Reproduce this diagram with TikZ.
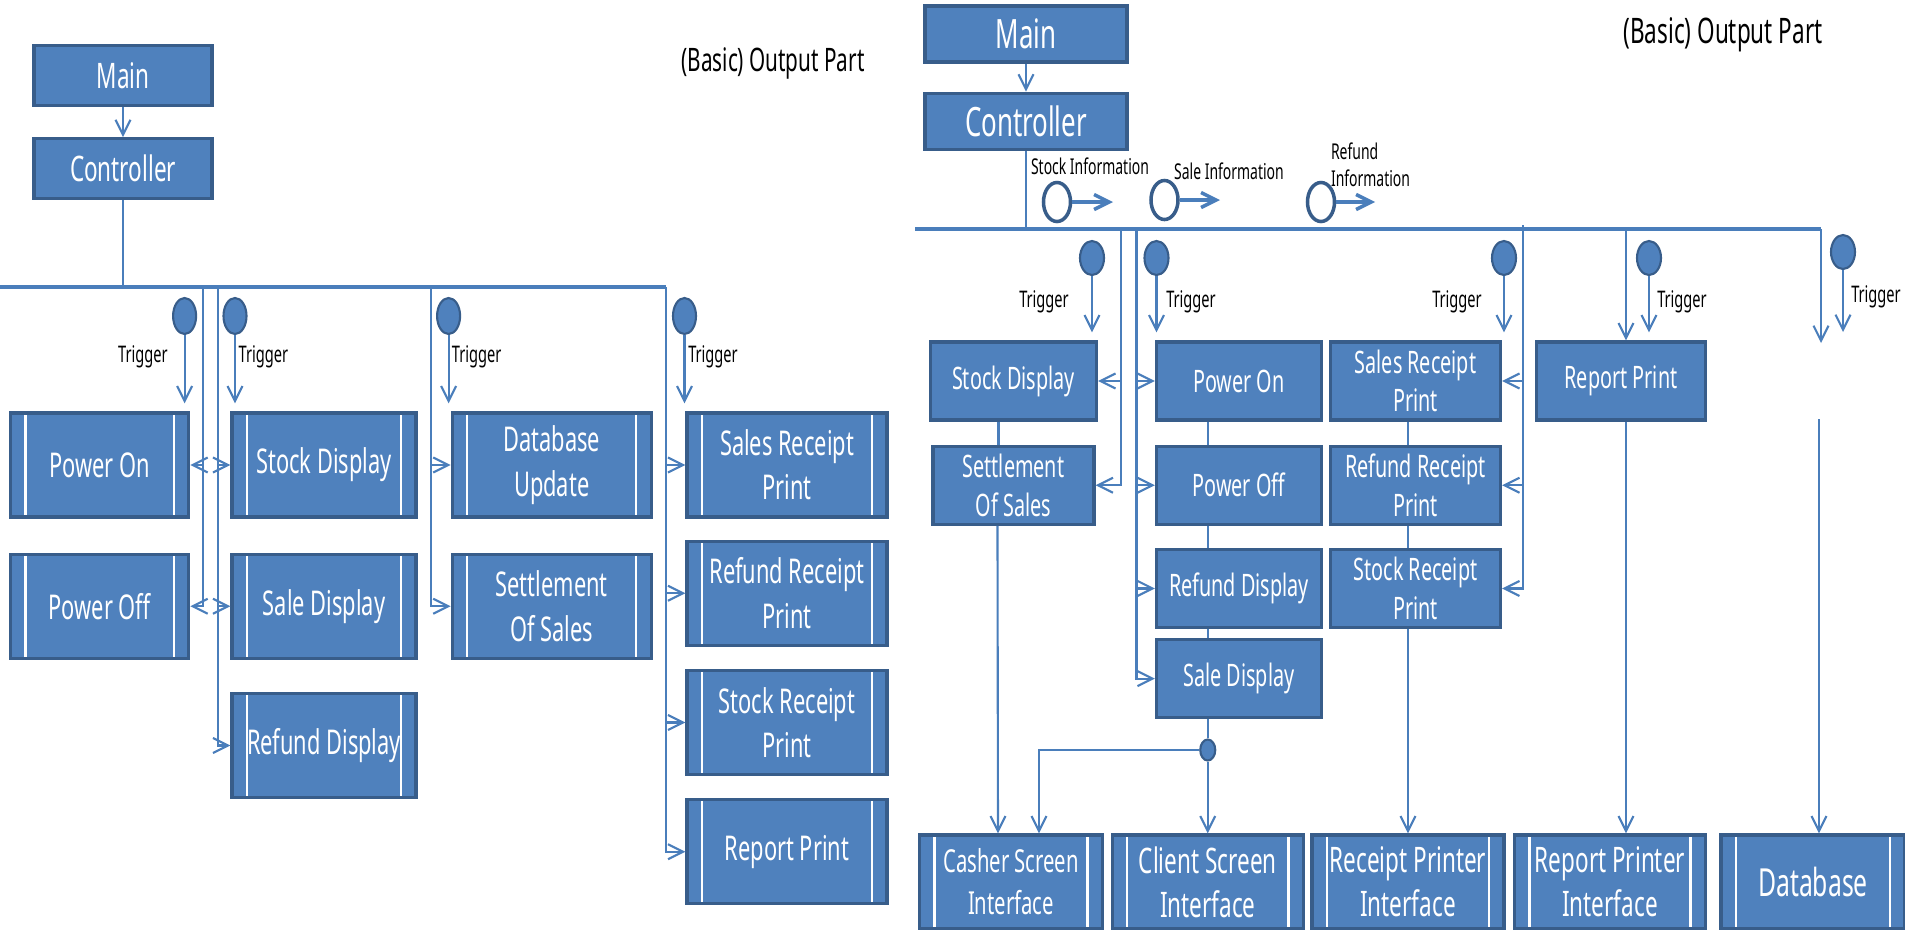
\documentclass[tikz,border=0pt]{standalone}
\usepackage{fontspec}
\setmainfont{Noto Sans}[FakeStretch=0.64]
\usetikzlibrary{positioning,shapes.geometric,arrows.meta}

\definecolor{boxfill}{RGB}{79,129,189}
\definecolor{boxline}{RGB}{56,93,138}
\definecolor{conn}{RGB}{74,126,187}

\tikzset{
  box/.style={rectangle,draw=boxline,fill=boxfill,line width=0.9pt,text=white,align=center,inner sep=1pt},
  proc/.style={box,path picture={
      \draw[white,line width=0.7pt] ([xshift=0.15cm]path picture bounding box.north west) -- ([xshift=0.15cm]path picture bounding box.south west);
      \draw[white,line width=0.7pt] ([xshift=-0.15cm]path picture bounding box.north east) -- ([xshift=-0.15cm]path picture bounding box.south east);}},
  lbox/.style={proc,minimum height=1.04cm,font=\fontsize{9.7}{12.6}\selectfont},
  rbox/.style={box,minimum height=0.78cm,font=\fontsize{8.8}{10.9}\selectfont},
  ibox/.style={proc,minimum height=0.94cm,font=\fontsize{10}{12.5}\selectfont},
  trig/.style={ellipse,draw=boxline,fill=boxfill,line width=0.6pt,inner sep=0pt,minimum width=0.23cm,minimum height=0.36cm},
  info/.style={ellipse,draw=boxline,fill=white,line width=1pt,inner sep=0pt,minimum width=0.27cm,minimum height=0.39cm},
  lbl/.style={text=black,inner sep=0pt,font=\fontsize{6.5}{7.5}\selectfont},
  title/.style={text=black,inner sep=0pt},
  bus/.style={line width=1pt},
  trigarrow/.style={->,shorten >=0.08cm}
}

\begin{document}
\begin{tikzpicture}[x=0.01cm,y=-0.01cm,color=conn,line width=0.6pt,
    >={Straight Barb[length=1.5mm,width=1.5mm]}]
\useasboundingbox (0,0) rectangle (1905,930);

% ---------- left part ----------
\node[box,minimum width=1.78cm,minimum height=0.6cm,font=\fontsize{10}{12}\selectfont] (main) at (123,75.5) {Main};
\node[box,minimum width=1.78cm,minimum height=0.6cm,font=\fontsize{10}{12}\selectfont,below=0.3cm of main] (ctrl) {Controller};
\node[title,font=\fontsize{9.2}{11}\selectfont] (titleL) at (773,63) {(Basic) Output Part};

\node[lbox,minimum width=1.78cm] (pon) at (99.7,465) {Power On};
\node[lbox,minimum width=1.78cm,below=0.34cm of pon] (poff) {Power Off};

\node[lbox,minimum width=1.84cm] (stk) at (324,465) {Stock Display};
\node[lbox,minimum width=1.84cm,below=0.34cm of stk] (sal) {Sale Display};
\node[lbox,minimum width=1.84cm,below=0.32cm of sal] (rfd) {Refund Display};

\node[lbox,minimum width=1.99cm] (dbu) at (551.7,465) {Database\\Update};
\node[lbox,minimum width=1.99cm,below=0.34cm of dbu] (stl) {Settlement\\Of Sales};

\node[lbox,minimum width=2.0cm] (srp) at (787,465) {Sales Receipt\\Print};
\node[lbox,minimum width=2.0cm,below=0.21cm of srp] (rrp) {Refund Receipt\\Print};
\node[lbox,minimum width=2.0cm,below=0.22cm of rrp] (skp) {Stock Receipt\\Print};
\node[lbox,minimum width=2.0cm,below=0.22cm of skp] (rpp) {Report Print};

\coordinate (busL) at (0,287);
\coordinate (busLe) at (666,287);
\coordinate (tapL1) at (203.3,287);
\coordinate (tapL2) at (217.6,287);
\coordinate (tapL3) at (431.3,287);

\draw[->] (main) -- (ctrl);
\draw (ctrl) -- (ctrl |- busL);
\draw[bus] (busL) -- (busLe);

\draw[->] (tapL1) |- (pon.east);
\draw[->] (tapL1) |- (poff.east);
\draw[->] (tapL2) |- (stk.west);
\draw[->] (tapL2) |- (sal.west);
\draw[->] (tapL2) |- (rfd.west);
\draw[->] (tapL3) |- (dbu.west);
\draw[->] (tapL3) |- (stl.west);
\draw[->] (busLe) |- (srp.west);
\draw[->] (busLe) |- (rrp.west);
\draw[->] (busLe) |- (skp.west);
\draw[->] (busLe) |- (rpp.west);

\node[trig] (trgL1) at (184.6,316) {};
\node[trig] (trgL2) at (235,316) {};
\node[trig] (trgL3) at (448.6,316) {};
\node[trig] (trgL4) at (684.5,316) {};
\node[lbl] (trgL1t) at (143,357) {Trigger};
\node[lbl] (trgL2t) at (263.5,357) {Trigger};
\node[lbl] (trgL3t) at (476.7,357) {Trigger};
\node[lbl] (trgL4t) at (713,357) {Trigger};
\draw[trigarrow] (trgL1) -- (trgL1 |- pon.north);
\draw[trigarrow] (trgL2) -- (trgL2 |- stk.north);
\draw[trigarrow] (trgL3) -- (trgL3 |- dbu.north);
\draw[trigarrow] (trgL4) -- (trgL4 |- srp.north);

% ---------- right part ----------
\node[box,minimum width=2.02cm,minimum height=0.56cm,font=\fontsize{11.5}{13}\selectfont] (main2) at (1026,34) {Main};
\node[box,minimum width=2.02cm,minimum height=0.56cm,font=\fontsize{11.5}{13}\selectfont,below=0.28cm of main2] (ctrl2) {Controller};
\node[title,font=\fontsize{10}{12}\selectfont] (titleR) at (1723,35) {(Basic) Output Part};

\node[rbox,minimum width=1.66cm] (sdp2) at (1013.5,381) {Stock Display};
\node[rbox,minimum width=1.61cm,below=0.23cm of sdp2] (stl2) {Settlement\\Of Sales};

\node[rbox,minimum width=1.65cm] (pon2) at (1239,381) {Power On};
\node[rbox,minimum width=1.65cm,below=0.23cm of pon2] (poff2) {Power Off};
\node[rbox,minimum width=1.65cm,below=0.22cm of poff2] (rfd2) {Refund Display};
\node[rbox,minimum width=1.65cm,below=0.09cm of rfd2] (sal2) {Sale Display};

\node[rbox,minimum width=1.70cm] (srp2) at (1415.5,381) {Sales Receipt\\Print};
\node[rbox,minimum width=1.70cm,below=0.23cm of srp2] (rrp2) {Refund Receipt\\Print};
\node[rbox,minimum width=1.70cm,below=0.22cm of rrp2] (skp2) {Stock Receipt\\Print};

\node[rbox,minimum width=1.69cm] (rpp2) at (1621,381) {Report Print};

\node[ibox,minimum width=1.83cm,font=\fontsize{9}{12}\selectfont] (cash) at (1011,882) {Casher Screen\\Interface};
\node[ibox,minimum width=1.91cm] (clnt) at (1207.75,882) {Client Screen\\Interface};
\node[ibox,minimum width=1.92cm] (rcpi) at (1408,882) {Receipt Printer\\Interface};
\node[ibox,minimum width=1.91cm] (rppi) at (1610,882) {Report Printer\\Interface};
\node[ibox,minimum width=1.84cm,font=\fontsize{11}{13}\selectfont] (db) at (1813,882) {Database};

\coordinate (busR) at (915,229);
\coordinate (busRe) at (1821,229);
\coordinate (tapR1) at (1121,229);
\coordinate (tapR2) at (1136.5,229);
\coordinate (tapR3) at (1523,225);
\coordinate (tapR4) at (1626,229);
\coordinate (dbEnd) at (1821,343);
\coordinate (dbStart) at (1819,419);

\draw[->] (main2) -- (ctrl2);
\draw (ctrl2) -- (ctrl2 |- busR);
\draw[bus] (busR) -- (busRe);

% information passed on the bus
\node[info] (inf1) at (1057,202) {};
\node[info] (inf2) at (1164.5,200) {};
\node[info] (inf3) at (1321,202) {};
\coordinate (inf1e) at (1113,202);
\coordinate (inf2e) at (1220,200);
\coordinate (inf3e) at (1375,202);
\draw[->,line width=1pt] (inf1) -- (inf1e);
\draw[->,line width=1pt] (inf2) -- (inf2e);
\draw[->,line width=1pt] (inf3) -- (inf3e);
\node[lbl,font=\fontsize{6.2}{7.4}\selectfont] (inf1t) at (1090,166) {Stock Information};
\node[lbl,font=\fontsize{6.2}{7.4}\selectfont] (inf2t) at (1229,171) {Sale Information};
\node[lbl,font=\fontsize{6.2}{7.8}\selectfont,align=left,anchor=west] (inf3t) at (1330,165) {Refund\\Information};

\draw[->] (tapR1) |- (sdp2.east);
\draw[->] (tapR1) |- (stl2.east);
\draw[->] (tapR2) |- (pon2.west);
\draw[->] (tapR2) |- (poff2.west);
\draw[->] (tapR2) |- (rfd2.west);
\draw[->] (tapR2) |- (sal2.west);
\draw[->] (tapR3) |- (srp2.east);
\draw[->] (tapR3) |- (rrp2.east);
\draw[->] (tapR3) |- (skp2.east);
\draw[->] (tapR4) -- (tapR4 |- rpp2.north);
\draw[->] (busRe) -- (dbEnd);

\node[trig,minimum height=0.34cm,minimum width=0.24cm] (trgR1) at (1092,258) {};
\node[trig,minimum height=0.34cm,minimum width=0.24cm] (trgR2) at (1156.5,258) {};
\node[trig,minimum height=0.34cm,minimum width=0.24cm] (trgR3) at (1504,258) {};
\node[trig,minimum height=0.34cm,minimum width=0.24cm] (trgR4) at (1649,258) {};
\node[trig,minimum height=0.34cm,minimum width=0.24cm] (trgR5) at (1843,252) {};
\coordinate (trgR5e) at (1843,332);
\node[lbl] (trgR1t) at (1044,302) {Trigger};
\node[lbl] (trgR2t) at (1191,302) {Trigger};
\node[lbl] (trgR3t) at (1457,302) {Trigger};
\node[lbl] (trgR4t) at (1682,302) {Trigger};
\node[lbl] (trgR5t) at (1876,297) {Trigger};
\draw[trigarrow] (trgR1) -- (trgR1 |- sdp2.north);
\draw[trigarrow] (trgR2) -- (trgR2 |- pon2.north);
\draw[trigarrow] (trgR3) -- (trgR3 |- srp2.north);
\draw[trigarrow] (trgR4) -- (trgR4 |- rpp2.north);
\draw[->] (trgR5) -- (trgR5e);

% links down to the interfaces
\draw ([xshift=-0.15cm]sdp2.south) -- ([xshift=-0.15cm]stl2.north);
\draw[->] ([xshift=-0.16cm]stl2.south) -- ([xshift=-0.13cm]cash.north);

\draw (pon2.south -| clnt) -- (poff2.north -| clnt);
\draw (poff2.south -| clnt) -- (rfd2.north -| clnt);
\draw (rfd2.south -| clnt) -- (sal2.north -| clnt);
\node[trig,minimum width=0.15cm,minimum height=0.21cm] (dot) at (1207.75,750) {};
\draw (sal2.south -| clnt) -- (dot);
\draw[->] (dot) -- (clnt);
\draw[->] (dot) -| ([xshift=0.28cm]cash.north);

\draw (srp2.south -| rcpi) -- (rrp2.north -| rcpi);
\draw (rrp2.south -| rcpi) -- (skp2.north -| rcpi);
\draw[->] (skp2.south -| rcpi) -- (rcpi);

\draw[->] (rpp2.south -| tapR4) -- (tapR4 |- rppi.north);
\draw[->] (dbStart) -- (dbStart |- db.north);
\end{tikzpicture}
\end{document}
